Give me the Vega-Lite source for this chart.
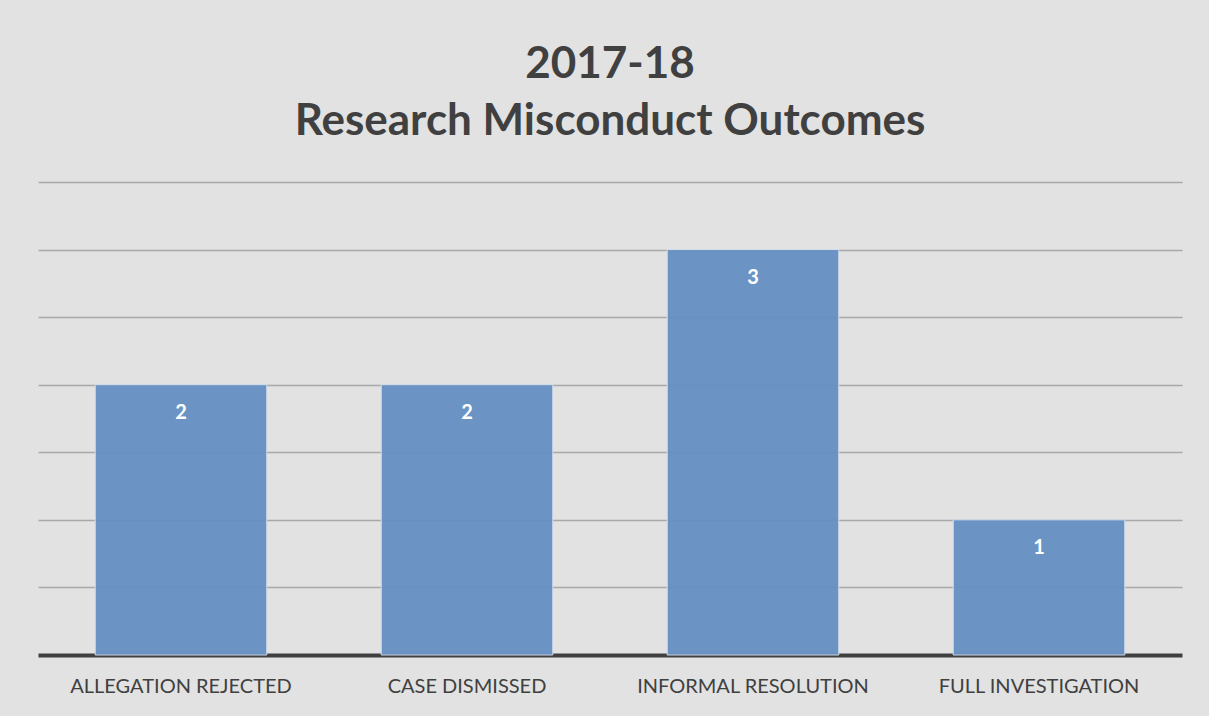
{
  "$schema": "https://vega.github.io/schema/vega-lite/v6.json",
  "autosize": {"type": "none"},
  "width": 1144,
  "height": 473,
  "padding": {"left": 38, "top": 182, "right": 27, "bottom": 61},
  "background": "#e2e2e2",
  "title": {
    "text": ["2017-18", "Research Misconduct Outcomes"],
    "fontSize": 44,
    "font": "Lato",
    "fontWeight": "bold",
    "color": "#404040",
    "lineHeight": 57,
    "anchor": "middle",
    "offset": 38
  },
  "data": {
    "values": [
      {"outcome": "ALLEGATION REJECTED", "count": 2},
      {"outcome": "CASE DISMISSED", "count": 2},
      {"outcome": "INFORMAL RESOLUTION", "count": 3},
      {"outcome": "FULL INVESTIGATION", "count": 1}
    ]
  },
  "encoding": {
    "x": {
      "field": "outcome",
      "type": "nominal",
      "sort": null,
      "scale": {"paddingInner": 0.4, "paddingOuter": 0.2},
      "axis": {
        "title": null,
        "labelAngle": 0,
        "labelFont": "Lato",
        "labelFontSize": 20,
        "labelColor": "#404040",
        "labelPadding": 21,
        "labelLimit": 0,
        "ticks": false,
        "domainColor": "#404040",
        "domainWidth": 4,
        "grid": false
      }
    },
    "y": {
      "field": "count",
      "type": "quantitative",
      "scale": {"domain": [0, 3.5], "nice": false},
      "axis": {
        "title": null,
        "labels": false,
        "ticks": false,
        "domain": false,
        "values": [0.5, 1, 1.5, 2, 2.5, 3, 3.5],
        "gridColor": "#a8a8a8",
        "gridWidth": 1.5
      }
    }
  },
  "layer": [
    {
      "mark": {"type": "bar", "color": "#6590c4", "stroke": "#d6e2f0", "strokeWidth": 1, "opacity": 0.95}
    },
    {
      "mark": {"type": "text", "dy": 28, "baseline": "middle", "color": "white", "font": "Lato", "fontWeight": "bold", "fontSize": 20},
      "encoding": {"text": {"field": "count", "type": "quantitative"}}
    }
  ],
  "config": {"view": {"stroke": null}}
}
